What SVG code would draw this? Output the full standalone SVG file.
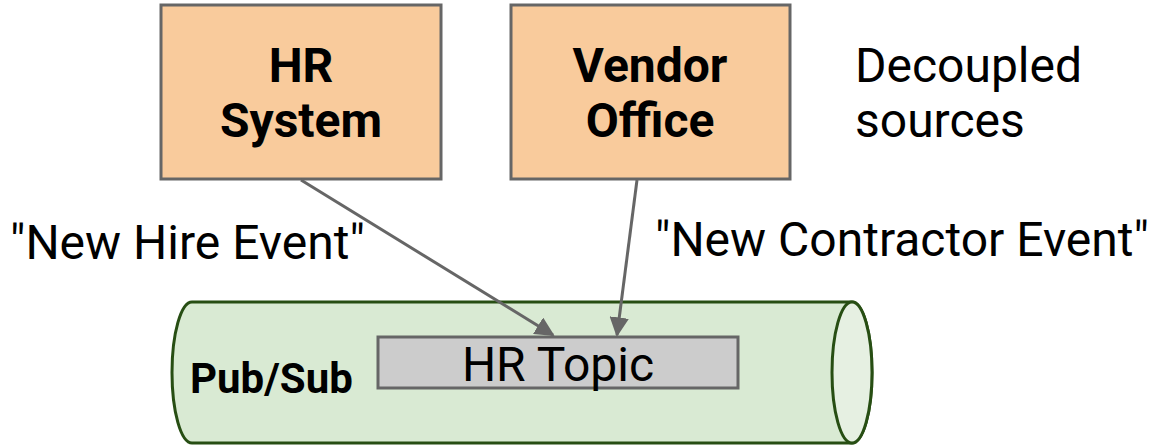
<svg xmlns="http://www.w3.org/2000/svg" width="1151" height="447" viewBox="0 0 1151 447">
<defs>
<style>
.box{fill:#f9cb9c;stroke:#666666;stroke-width:3}
.bt{font-family:Roboto,"Liberation Sans",sans-serif;font-weight:bold;font-size:48px;fill:#000;text-anchor:middle}
.t{font-family:Roboto,"Liberation Sans",sans-serif;font-size:48px;fill:#000}
.conn{stroke:#666666;stroke-width:3;fill:none;marker-end:url(#ah)}
</style>
<marker id="ah" viewBox="0 0 10 10" refX="9" refY="5" markerWidth="6.5" markerHeight="6.5" orient="auto" markerUnits="strokeWidth">
<path d="M0,0 L10,5 L0,10 Z" fill="#666666"/>
</marker>
</defs>
<rect width="1151" height="447" fill="#fff"/>
<g id="pubsub">
<path d="M192,302 L852,302 A20,70.5 0 0 1 852,443 L192,443 A20,70.5 0 0 1 192,302 Z" fill="#d9ead3" stroke="#274e13" stroke-width="3"/>
<ellipse cx="852" cy="372.5" rx="20" ry="70.5" fill="#e6f0e2" stroke="#274e13" stroke-width="3"/>
<text x="190" y="393" font-family="Roboto,'Liberation Sans',sans-serif" font-weight="bold" font-size="42" fill="#000">Pub/Sub</text>
</g>
<g id="hrtopic">
<rect x="378" y="337" width="360" height="51" fill="#cccccc" stroke="#666666" stroke-width="3"/>
<text x="558" y="381" class="t" text-anchor="middle">HR Topic</text>
</g>
<g id="hrsystem">
<rect class="box" x="161" y="5" width="280" height="174"/>
<text class="bt" x="301" y="82">HR</text>
<text class="bt" x="301" y="137">System</text>
</g>
<g id="vendor">
<rect class="box" x="511" y="5" width="279" height="174"/>
<text class="bt" x="650" y="82">Vendor</text>
<text class="bt" x="650" y="137">Office</text>
</g>
<g id="note">
<text class="t" x="855" y="82">Decoupled</text>
<text class="t" x="855" y="137">sources</text>
</g>
<g id="connectors">
<line class="conn" x1="301" y1="180" x2="553" y2="335"/>
<line class="conn" x1="637" y1="180" x2="617" y2="335"/>
<text class="t" x="10" y="259">"New Hire Event"</text>
<text class="t" x="655" y="256">"New Contractor Event"</text>
</g>
</svg>
